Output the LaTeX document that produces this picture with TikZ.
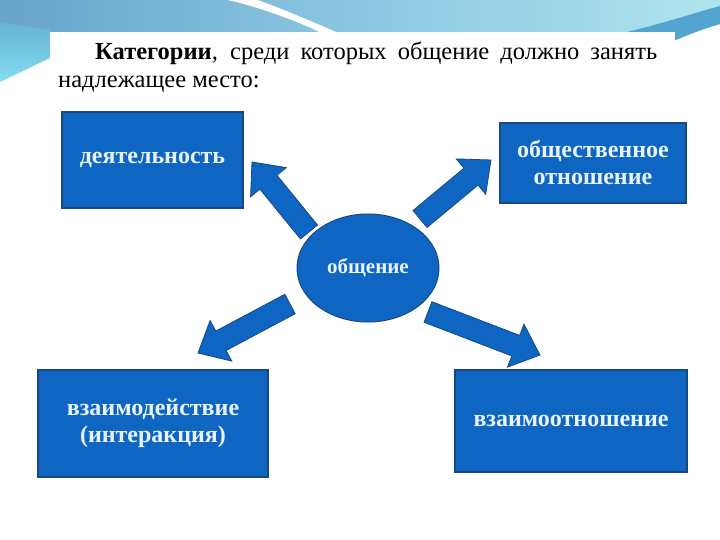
\documentclass[tikz,border=0pt]{standalone}
\usepackage{fontspec}
\setmainfont{Liberation Serif}
\usetikzlibrary{calc,shapes.geometric}
\definecolor{boxblue}{RGB}{14,102,194}
\definecolor{boxedge}{RGB}{22,72,132}
\definecolor{boxtext}{RGB}{232,243,255}
\definecolor{bandL}{RGB}{104,164,204}
\definecolor{bandM}{RGB}{140,200,226}
\definecolor{bandR}{RGB}{176,228,238}
\definecolor{wedgeC}{RGB}{100,212,236}
\definecolor{waveC}{RGB}{84,164,208}
\newcommand\blockarrow[2]{%
  \path ($(#2)!26pt!(#1)$) coordinate (nk);
  \draw[blockarr] ($(#1)!11pt!90:(#2)$) -- ($(nk)!11pt!90:(#2)$)
    -- ($(nk)!23pt!90:(#2)$) -- (#2) -- ($(nk)!23pt!-90:(#2)$)
    -- ($(nk)!11pt!-90:(#2)$) -- ($(#1)!11pt!-90:(#2)$) -- cycle;}
\begin{document}
\begin{tikzpicture}[x=1pt,y=-1pt,
  catbox/.style={draw=boxedge, line width=1.6pt, fill=boxblue, inner sep=0pt,
    text=boxtext, font=\fontsize{24}{27}\selectfont\bfseries, align=center},
  blockarr/.style={draw=boxedge, line width=0.8pt, fill=boxblue, line join=miter},
  titletext/.style={anchor=base west, inner sep=0pt, font=\fontsize{24.5}{28}\selectfont}]
\useasboundingbox (0,0) rectangle (720,540);
\fill[white] (0,0) rectangle (720,540);
% top decoration
\shade[left color=bandL, right color=bandR, middle color=bandM]
  (0,0) -- (720,0) -- (720,12) .. controls (690,20) and (660,30) .. (640,36) -- (50,36) -- (0,24) -- cycle;
\fill[white] (228,0) -- (258,0) .. controls (290,12) and (318,24) .. (345,36)
  -- (328,36) .. controls (300,22) and (262,8) .. cycle;
\shade[top color=bandL!70!wedgeC, bottom color=wedgeC!80!white]
  (0,22) -- (50,30) -- (50,58) -- (0,82) -- cycle;
\fill[waveC] (600,38) .. controls (650,28) and (690,14) .. (720,6)
  -- (720,24) .. controls (700,30) and (688,35) .. (676,40) -- cycle;
\fill[white] (50,32) rectangle (675,106);
% title
\node[titletext] (title1) at (95,60)
  {\makebox[562pt][s]{\textbf{Категории}, среди которых общение должно занять}};
\node[titletext] (title2) at (58,88) {надлежащее место:};
% boxes
\node[catbox, minimum width=181pt, minimum height=96pt] (act) at (152.5,160) {деятельность};
\node[catbox, minimum width=186pt, minimum height=80pt] (soc) at (593,163) {общественное\\отношение};
\node[catbox, minimum width=230pt, minimum height=107pt] (inter) at (153,423.5) {взаимодействие\\(интеракция)};
\node[catbox, minimum width=232pt, minimum height=102pt] (rel) at (571,421) {взаимоотношение};
\node[ellipse, draw=boxedge, line width=1pt, fill=boxblue, inner sep=0pt,
  minimum width=142pt, minimum height=108pt, text=boxtext,
  font=\fontsize{21}{24}\selectfont\bfseries] (comm) at (368,268) {общение};
% arrows
\coordinate (ulS) at (309,232); \coordinate (ulE) at (252,162);
\coordinate (urS) at (420,219); \coordinate (urE) at (491,160);
\coordinate (dlS) at (290,304); \coordinate (dlE) at (198,353);
\coordinate (drS) at (428,312); \coordinate (drE) at (540,355);
\blockarrow{ulS}{ulE}
\blockarrow{urS}{urE}
\blockarrow{dlS}{dlE}
\blockarrow{drS}{drE}
\end{tikzpicture}
\end{document}
